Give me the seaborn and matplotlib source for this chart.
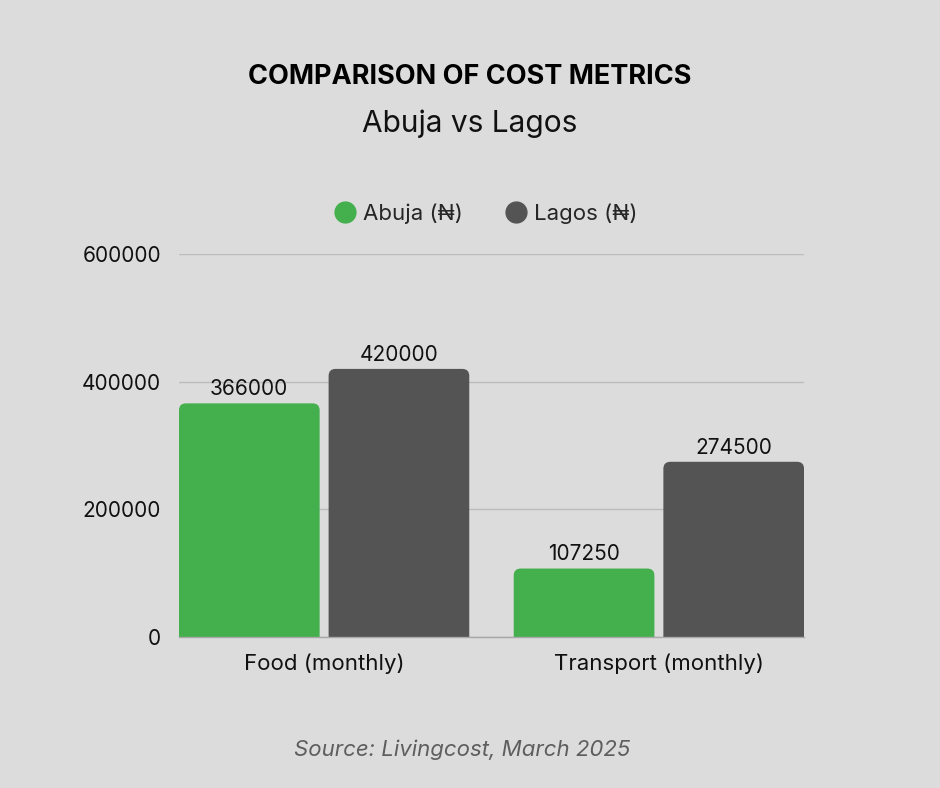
import matplotlib
matplotlib.use("Agg")
import matplotlib.pyplot as plt
from matplotlib.patches import FancyBboxPatch
from matplotlib.lines import Line2D
import seaborn as sns
import pandas as pd

categories = ["Food (monthly)", "Transport (monthly)"]
series_names = ["Abuja (₦)", "Lagos (₦)"]
abuja_values = [366000, 107250]
lagos_values = [420000, 274500]
y_ticks = [0, 200000, 400000, 600000]

colors = ["#43b04d", "#545454"]
BG = "#dcdcdc"

df = pd.DataFrame({
    "category": categories * 2,
    "city": [series_names[0]] * 2 + [series_names[1]] * 2,
    "value": abuja_values + lagos_values,
})

sns.set_theme(style="white")
FONT = ["Inter", "DejaVu Sans"]
plt.rcParams["font.family"] = FONT

fig = plt.figure(figsize=(9.4, 7.88), dpi=100, facecolor=BG)
ax = fig.add_axes([179 / 940, 151 / 788, 625 / 940, 383 / 788])
ax.set_facecolor(BG)

sns.barplot(data=df, x="category", y="value", hue="city", palette=colors,
            width=0.894, gap=0.06, ax=ax, saturation=1, legend=True,
            edgecolor="none", linewidth=0)

ax.set_xlim(-0.4335, 1.4335)
ax.set_ylim(0, 600000)
ax.set_yticks(y_ticks)
ax.set_yticklabels([str(v) for v in y_ticks])
ax.set_xlabel("")
ax.set_ylabel("")
ax.grid(axis="y", color="#bcbcbc", linewidth=1)
ax.set_axisbelow(True)
for s in ["top", "left", "right"]:
    ax.spines[s].set_visible(False)
ax.spines["bottom"].set_color("#a8a8a8")
ax.spines["bottom"].set_linewidth(1)
ax.tick_params(axis="y", length=0, pad=13, labelsize=15, labelcolor="#111111")
ax.tick_params(axis="x", length=0, pad=12, labelsize=16, labelcolor="#111111")

# rounded top corners
x0, x1 = ax.get_xlim()
y0, y1 = ax.get_ylim()
ux = (x1 - x0) / 625.0
uy = (y1 - y0) / 383.0
aspect = uy / ux
r_px = 7
for cont in ax.containers:
    for p in cont.patches:
        x, w, h = p.get_x(), p.get_width(), p.get_height()
        fc = p.get_facecolor()
        p.set_visible(False)
        fb = FancyBboxPatch((x, -r_px * uy * 2), w, h + r_px * uy * 2,
                            boxstyle=f"round,pad=0,rounding_size={r_px * ux}",
                            mutation_aspect=aspect, facecolor=fc,
                            edgecolor="none", linewidth=0, zorder=2)
        ax.add_patch(fb)
    ax.bar_label(cont, labels=[str(int(v)) for v in cont.datavalues],
                 padding=3, fontsize=15, color="#111111")

ax.legend_.remove()
handles = [Line2D([], [], marker="o", linestyle="none", markersize=15,
                  markerfacecolor=c, markeredgecolor=c) for c in colors]
fig.legend(handles, series_names, loc="center", bbox_to_anchor=(486 / 940, 1 - 214 / 788),
           ncol=2, frameon=False, fontsize=16, handletextpad=0.3,
           columnspacing=1.9, handlelength=1.0)

fig.text(0.5, 1 - 77 / 788, "COMPARISON OF COST METRICS", ha="center", va="center",
         fontsize=19.5, fontweight="bold", color="#000000")
fig.text(0.5, 1 - 124 / 788, "Abuja vs Lagos", ha="center", va="center",
         fontsize=21.5, color="#111111")
fig.text(462 / 940, 1 - 750 / 788, "Source: Livingcost, March 2025", ha="center",
         va="center", fontsize=16, style="italic", color="#5e5e5e")

fig.savefig("out.png", dpi=100, facecolor=BG)
